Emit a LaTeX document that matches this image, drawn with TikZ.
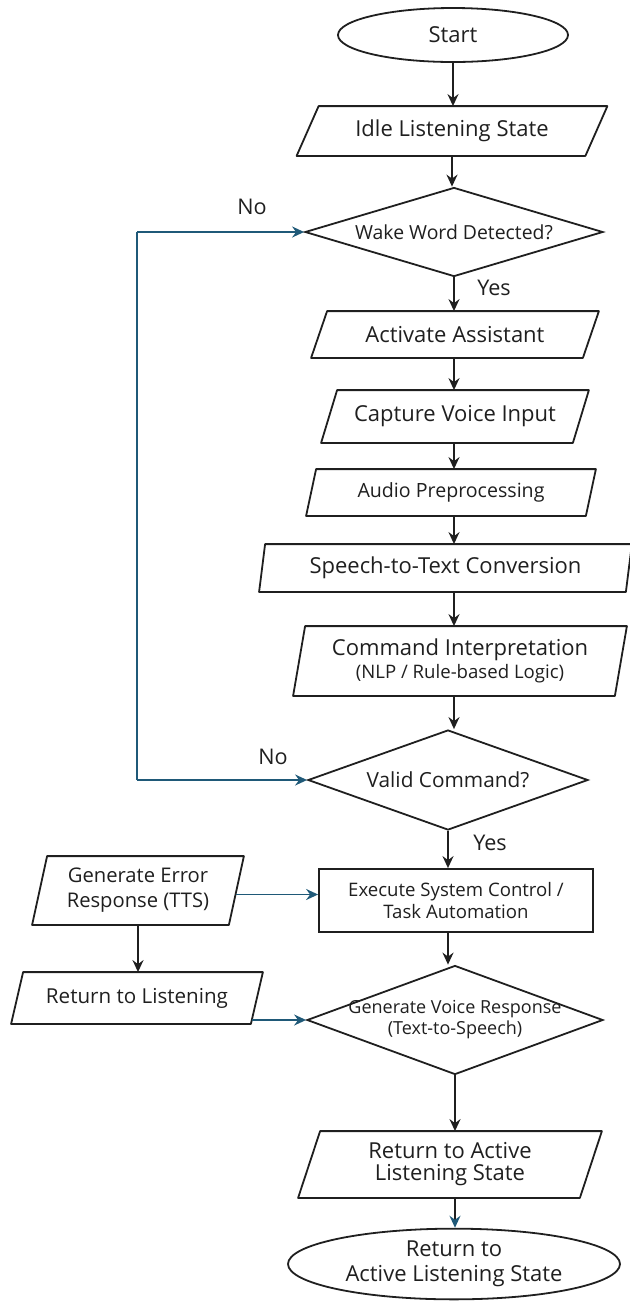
\documentclass[tikz,border=0pt]{standalone}
\usepackage{fontspec}
\setmainfont{Open Sans}
\usepackage{tikz}
\usetikzlibrary{arrows.meta}
\usetikzlibrary{shapes.geometric}
\definecolor{mblue}{rgb}{0.12, 0.35, 0.47}
\definecolor{mline}{rgb}{0.12, 0.12, 0.12}
\tikzset{flow/.style = {draw = mline, line width = 0.9pt, inner sep = 1pt, align = center,
                        text = mline, font = \fontsize{11}{12.5}\selectfont},
         outline/.style = {draw = mline, line width = 0.9pt, line join = round},
         term/.style = {flow, ellipse},
         io/.style = {flow, draw = none, rectangle},
         decide/.style = {flow, diamond, inner sep = 0pt},
         proc/.style = {flow, rectangle},
         small/.style = {font = \fontsize{9.5}{11}\selectfont},
         arr/.style = {draw = mline, line width = 0.9pt,
                       -{Stealth[length = 6pt, width = 5.5pt, inset = 2pt]}},
         bluearr/.style = {draw = mblue, line width = 0.9pt,
                           -{Stealth[length = 6pt, width = 5.5pt, inset = 2pt]}},
         answer/.style = {text = mline, font = \fontsize{10.8}{13}\selectfont}}
% parallelogram round a rectangular node, #2 = half of the slant
\newcommand{\slantbox}[2]{%
  \draw [outline] ([xshift = -#2]#1.south west) -- ([xshift = #2]#1.north west)
        -- ([xshift = #2]#1.north east) -- ([xshift = -#2]#1.south east) -- cycle;}

\begin{document}
\begin{tikzpicture}[x = 0.5pt, y = -0.5pt]
  \useasboundingbox (0, 0) rectangle (629, 1303);
  % main column
  \node [term, minimum width = 115pt, minimum height = 27pt] (start) at (453, 35) {Start};
  \node [io, minimum width = 143.5pt, minimum height = 24pt] (idle) at (452, 131) {Idle Listening State};
  \node [decide, small, font = \fontsize{9.7}{11}\selectfont, aspect = 3.35, minimum width = 149pt, minimum height = 44.5pt] (wake) at (454, 232) {Wake Word Detected?};
  \node [io, minimum width = 135pt, minimum height = 22.5pt] (activate) at (455, 334.5) {Activate Assistant};
  \node [io, minimum width = 125pt, minimum height = 25.5pt] (capture) at (455, 416.5) {Capture Voice Input};
  \node [io, minimum width = 139pt, minimum height = 22.5pt, font = \fontsize{9.8}{12}\selectfont] (audio) at (451, 492.5) {Audio Preprocessing};
  \node [io, minimum width = 182.5pt, minimum height = 23pt] (speech) at (445.5, 568) {Speech-to-Text Conversion};
  \node [io, minimum width = 160pt, minimum height = 34pt] (command) at (460, 661)
        {Command Interpretation\\[-1pt]{\fontsize{9.3}{10}\selectfont (NLP / Rule-based Logic)}};
  \node [decide, font = \fontsize{10.4}{12}\selectfont, aspect = 2.8, minimum width = 140pt, minimum height = 50pt] (valid) at (448, 780) {Valid Command?};
  \node [proc, small, font = \fontsize{9.3}{11}\selectfont, minimum width = 137pt, minimum height = 31.5pt] (execute) at (456, 900.5) {Execute System Control /\\Task Automation};
  \node [decide, font = \fontsize{9}{10.5}\selectfont, aspect = 2.7, inner sep = -2pt, minimum width = 148pt, minimum height = 54.5pt] (voice) at (455, 1020)
        {Generate Voice Response\\(Text-to-Speech)};
  \node [io, minimum width = 140pt, minimum height = 32.5pt, font = \fontsize{11}{11}\selectfont] (retactive) at (450, 1164.5)
        {Return to Active\\Listening State};
  \node [term, minimum width = 166pt, minimum height = 34pt] (stop) at (454, 1264) {Return to\\Active Listening State};
  % error branch
  \node [io, minimum width = 97.5pt, minimum height = 33.5pt, font = \fontsize{10.1}{12.5}\selectfont] (error) at (138, 890.5) {Generate Error\\Response (TTS)};
  \node [io, minimum width = 119pt, minimum height = 25pt, font = \fontsize{10.3}{12}\selectfont] (retlisten) at (137, 998) {Return to Listening};
  % slanted outlines
  \slantbox{idle}{5.5pt}
  \slantbox{activate}{4pt}
  \slantbox{capture}{4pt}
  \slantbox{audio}{2.5pt}
  \slantbox{speech}{1.5pt}
  \slantbox{command}{3pt}
  \slantbox{retactive}{5.5pt}
  \slantbox{error}{3.75pt}
  \slantbox{retlisten}{3pt}
  % answers
  \node [answer] (wakeno) at (252, 207) {No};
  \node [answer] (wakeyes) at (494, 288) {Yes};
  \node [answer] (validno) at (273, 757) {No};
  \node [answer] (validyes) at (490, 843) {Yes};
  % connectors
  \draw [arr] (start) -- (start |- idle.north);
  \draw [arr] (idle) -- (idle |- wake.north);
  \draw [arr] (wake) -- (wake |- activate.north);
  \draw [arr] (wake |- activate.south) -- (wake |- capture.north);
  \draw [arr] (wake |- capture.south) -- (wake |- audio.north);
  \draw [arr] (wake |- audio.south) -- (wake |- speech.north);
  \draw [arr] (wake |- speech.south) -- (wake |- command.north);
  \draw [arr] (wake |- command.south) -- (wake |- valid.north);
  \draw [arr] (valid) -- (valid |- execute.north);
  \draw [arr] (valid |- execute.south) -- (valid |- voice.north);
  \draw [arr] (voice) -- (voice |- retactive.north);
  \draw [draw = mline, line width = 0.9pt, -{Stealth[length = 6pt, width = 5.5pt, inset = 2pt, color = mblue]}]
        (voice |- retactive.south) -- (voice |- stop.north);
  \draw [arr] (error) -- (error |- retlisten.north);
  % loop back
  \coordinate (looptop) at (137, 232);
  \coordinate (loopbot) at (137, 780);
  \coordinate (rlcorner) at ([xshift = -2.5pt]retlisten.south east);
  \draw [draw = mblue, line width = 0.9pt] (loopbot) -- (looptop);
  \draw [bluearr] (looptop) -- (wake.west);
  \draw [bluearr] (loopbot) -- (valid.west);
  \draw [bluearr] ([yshift = -2pt]error.east) -- ([yshift = -2pt]error.east -| execute.west);
  \draw [bluearr] (rlcorner |- voice.west) -- (voice.west);
\end{tikzpicture}
\end{document}
